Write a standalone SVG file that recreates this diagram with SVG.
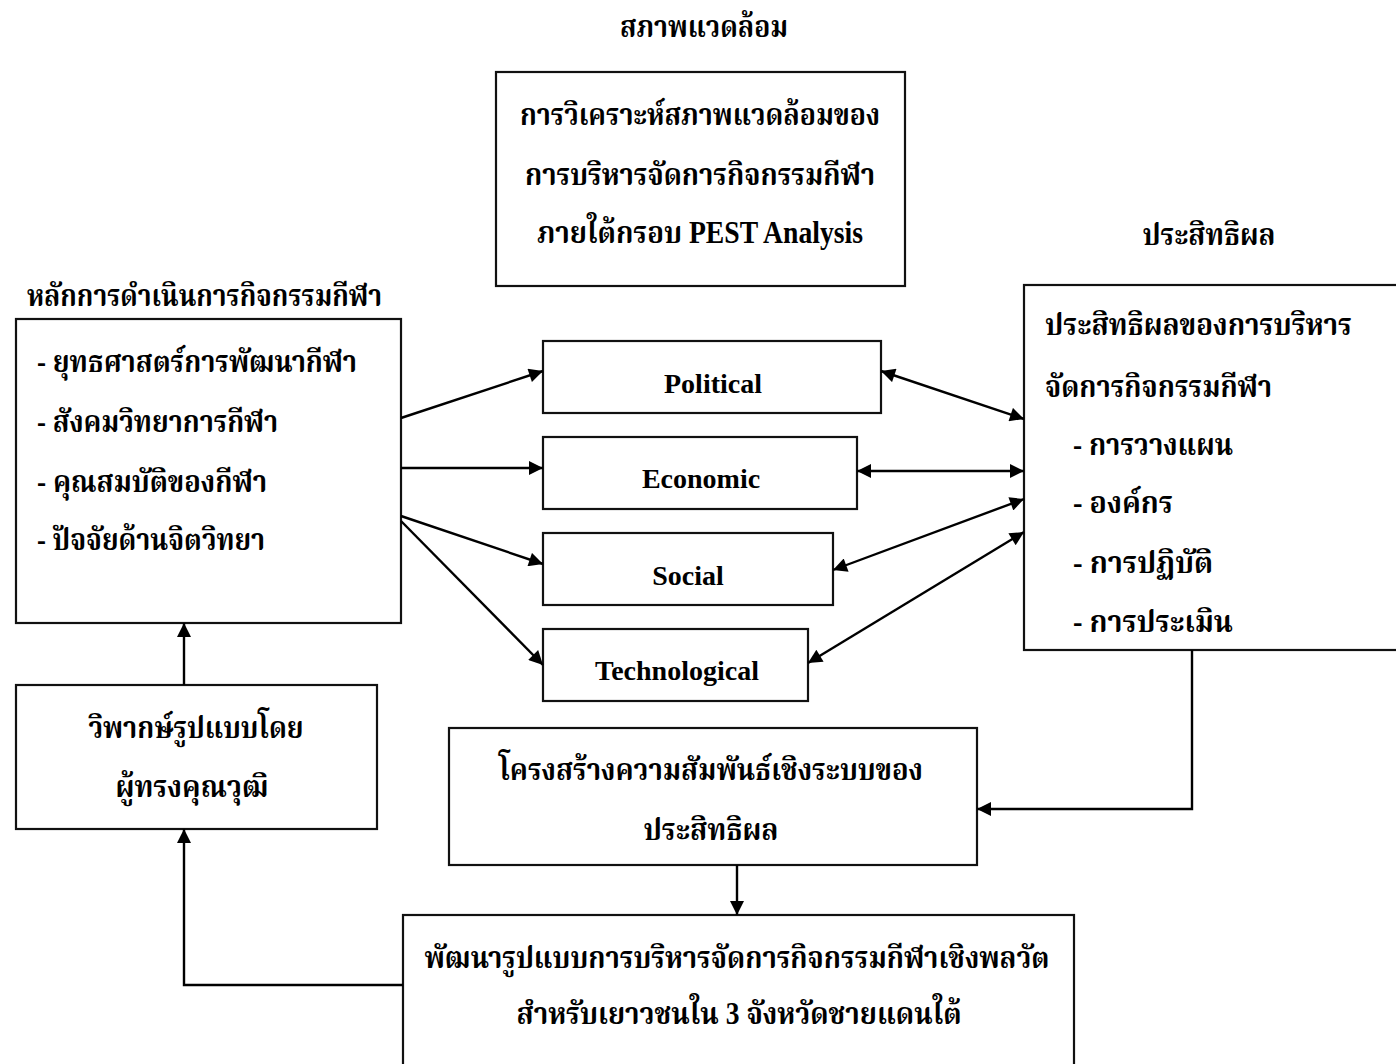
<svg xmlns="http://www.w3.org/2000/svg" width="1396" height="1064" viewBox="0 0 1396 1064">
<defs>
<style>
.box{fill:#fff;stroke:#111;stroke-width:2.2}
.ln{fill:none;stroke:#000;stroke-width:2.4}
.t{font-family:"Liberation Serif","Noto Serif Thai","Noto Sans Thai",serif;font-weight:bold;font-size:28px;fill:#000}
.th{font-size:31px}
.m{text-anchor:middle}
</style>
<marker id="ah" viewBox="0 0 10 10" refX="10" refY="5" markerWidth="17" markerHeight="14" markerUnits="userSpaceOnUse" orient="auto-start-reverse">
<path d="M0,0 L10,5 L0,10 z" fill="#000"/>
</marker>
</defs>
<rect width="1396" height="1064" fill="#fff"/>

<g id="labels">
<text class="t th m" x="704" y="37" textLength="168" lengthAdjust="spacingAndGlyphs">สภาพแวดล้อม</text>
<text class="t th" x="27" y="306" textLength="355" lengthAdjust="spacingAndGlyphs">หลักการดำเนินการกิจกรรมกีฬา</text>
<text class="t th m" x="1209" y="245" textLength="133" lengthAdjust="spacingAndGlyphs">ประสิทธิผล</text>
</g>

<g id="pest-box">
<rect class="box" x="496" y="72" width="409" height="214"/>
<text class="t th m" x="700" y="125" textLength="360" lengthAdjust="spacingAndGlyphs">การวิเคราะห์สภาพแวดล้อมของ</text>
<text class="t th m" x="700" y="185" textLength="350" lengthAdjust="spacingAndGlyphs">การบริหารจัดการกิจกรรมกีฬา</text>
<text class="t th m" x="700" y="243" textLength="326" lengthAdjust="spacingAndGlyphs">ภายใต้กรอบ PEST Analysis</text>
</g>

<g id="principles">
<rect class="box" x="16" y="319" width="385" height="304"/>
<text class="t th" x="37" y="372" textLength="320" lengthAdjust="spacingAndGlyphs">- ยุทธศาสตร์การพัฒนากีฬา</text>
<text class="t th" x="37" y="432" textLength="241" lengthAdjust="spacingAndGlyphs">- สังคมวิทยาการกีฬา</text>
<text class="t th" x="37" y="492" textLength="230" lengthAdjust="spacingAndGlyphs">- คุณสมบัติของกีฬา</text>
<text class="t th" x="37" y="550" textLength="228" lengthAdjust="spacingAndGlyphs">- ปัจจัยด้านจิตวิทยา</text>
</g>

<g id="political">
<rect class="box" x="543" y="341" width="338" height="72"/>
<text class="t m" x="713" y="393">Political</text>
</g>
<g id="economic">
<rect class="box" x="543" y="437" width="314" height="72"/>
<text class="t m" x="701" y="488">Economic</text>
</g>
<g id="social">
<rect class="box" x="543" y="533" width="290" height="72"/>
<text class="t m" x="688" y="585">Social</text>
</g>
<g id="technological">
<rect class="box" x="543" y="629" width="265" height="72"/>
<text class="t m" x="677" y="680">Technological</text>
</g>

<g id="effectiveness">
<rect class="box" x="1024" y="285" width="400" height="365"/>
<text class="t th" x="1045" y="335" textLength="307" lengthAdjust="spacingAndGlyphs">ประสิทธิผลของการบริหาร</text>
<text class="t th" x="1045" y="397" textLength="227" lengthAdjust="spacingAndGlyphs">จัดการกิจกรรมกีฬา</text>
<text class="t th" x="1073" y="455" textLength="160" lengthAdjust="spacingAndGlyphs">-  การวางแผน</text>
<text class="t th" x="1073" y="513" textLength="100" lengthAdjust="spacingAndGlyphs">-  องค์กร</text>
<text class="t th" x="1073" y="573" textLength="140" lengthAdjust="spacingAndGlyphs">-  การปฏิบัติ</text>
<text class="t th" x="1073" y="632" textLength="160" lengthAdjust="spacingAndGlyphs">-  การประเมิน</text>
</g>

<g id="critique">
<rect class="box" x="16" y="685" width="361" height="144"/>
<text class="t th m" x="196" y="738" textLength="215" lengthAdjust="spacingAndGlyphs">วิพากษ์รูปแบบโดย</text>
<text class="t th m" x="192" y="797" textLength="153" lengthAdjust="spacingAndGlyphs">ผู้ทรงคุณวุฒิ</text>
</g>

<g id="structure">
<rect class="box" x="449" y="728" width="528" height="137"/>
<text class="t th m" x="711" y="780" textLength="424" lengthAdjust="spacingAndGlyphs">โครงสร้างความสัมพันธ์เชิงระบบของ</text>
<text class="t th m" x="711" y="840" textLength="135" lengthAdjust="spacingAndGlyphs">ประสิทธิผล</text>
</g>

<g id="model">
<rect class="box" x="403" y="915" width="671" height="200"/>
<text class="t th m" x="737" y="968" textLength="625" lengthAdjust="spacingAndGlyphs">พัฒนารูปแบบการบริหารจัดการกิจกรรมกีฬาเชิงพลวัต</text>
<text class="t th m" x="739" y="1024" textLength="445" lengthAdjust="spacingAndGlyphs">สำหรับเยาวชนใน 3 จังหวัดชายแดนใต้</text>
</g>

<g id="connectors">
<line class="ln" x1="401" y1="418" x2="543" y2="371" marker-end="url(#ah)"/>
<line class="ln" x1="401" y1="468" x2="543" y2="468" marker-end="url(#ah)"/>
<line class="ln" x1="401" y1="516" x2="543" y2="564" marker-end="url(#ah)"/>
<line class="ln" x1="401" y1="521" x2="543" y2="665" marker-end="url(#ah)"/>
<line class="ln" x1="881" y1="371" x2="1024" y2="419" marker-start="url(#ah)" marker-end="url(#ah)"/>
<line class="ln" x1="857" y1="471" x2="1024" y2="471" marker-start="url(#ah)" marker-end="url(#ah)"/>
<line class="ln" x1="833" y1="570" x2="1024" y2="499" marker-start="url(#ah)" marker-end="url(#ah)"/>
<line class="ln" x1="808" y1="663" x2="1024" y2="532" marker-start="url(#ah)" marker-end="url(#ah)"/>
<path class="ln" d="M1192,650 V809 H977" marker-end="url(#ah)"/>
<line class="ln" x1="737" y1="865" x2="737" y2="915" marker-end="url(#ah)"/>
<path class="ln" d="M403,985 H184 V829" marker-end="url(#ah)"/>
<line class="ln" x1="184" y1="685" x2="184" y2="623" marker-end="url(#ah)"/>
</g>
</svg>
